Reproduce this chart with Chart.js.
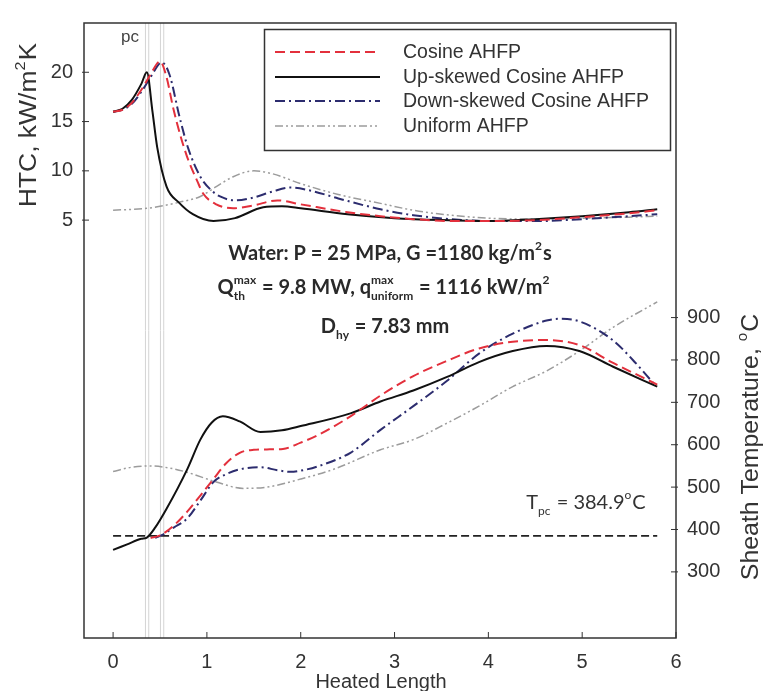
<!DOCTYPE html>
<html lang="en">
<head>
  <meta charset="UTF-8">
  <title>HTC and Sheath Temperature along Heated Length</title>
  <script src="https://cdn.jsdelivr.net/npm/chart.js"></script>
  <style>
    body { margin: 0; background: #fff; }
    #wrap { width: 764px; height: 691px; }
  </style>
</head>
<body>
<div id="wrap"><canvas id="chart" width="764" height="691"></canvas></div>
<script>
  // --- HTC, kW/m2K (left axis) ---
  const cosHtcX = [0, 0.1, 0.2, 0.3, 0.4, 0.5, 0.57, 0.64, 0.72, 0.79, 0.9, 0.96, 1.1, 1.28, 1.5, 1.75, 2.0, 2.5, 2.85, 3.2, 3.6, 4.0, 4.5, 5.0, 5.5, 5.8];
  const cosHtcY = [16, 16.2, 16.9, 18.2, 19.8, 21.1, 19.5, 16.4, 13.5, 11.4, 8.9, 7.7, 6.6, 6.2, 6.5, 7.0, 6.6, 5.8, 5.4, 5.1, 4.9, 4.9, 5.0, 5.3, 5.7, 6.0];
  const upHtcX = [0, 0.1, 0.2, 0.3, 0.36, 0.42, 0.47, 0.57, 0.7, 0.85, 1.07, 1.3, 1.6, 1.8, 2.0, 2.5, 3.0, 3.5, 4.0, 4.5, 5.0, 5.5, 5.8];
  const upHtcY = [16, 16.3, 17.2, 18.8, 20, 16, 12.4, 8.4, 6.8, 5.6, 4.9, 5.2, 6.3, 6.4, 6.2, 5.6, 5.2, 5.0, 4.9, 5.1, 5.4, 5.8, 6.1];
  const downHtcX = [0, 0.1, 0.2, 0.3, 0.4, 0.52, 0.6, 0.71, 0.8, 0.93, 1.05, 1.14, 1.3, 1.5, 1.7, 1.89, 2.1, 2.4, 2.85, 3.2, 3.6, 4.0, 4.5, 5.0, 5.5, 5.8];
  const downHtcY = [16, 16.2, 16.8, 18.0, 19.5, 21.0, 19.8, 15.4, 12.3, 9.4, 8.0, 7.4, 7.0, 7.3, 7.9, 8.3, 8.0, 7.2, 6.1, 5.5, 5.1, 4.9, 4.9, 5.1, 5.4, 5.6];
  const uniHtcX = [0, 0.36, 0.5, 0.7, 0.93, 1.1, 1.28, 1.5, 1.7, 2.0, 2.4, 2.85, 3.2, 3.6, 4.0, 4.5, 5.0, 5.5, 5.8];
  const uniHtcY = [6.0, 6.2, 6.4, 6.8, 7.4, 8.4, 9.4, 10.0, 9.7, 8.7, 7.6, 6.7, 6.0, 5.5, 5.2, 5.1, 5.2, 5.3, 5.4];

  // --- Sheath temperature, °C (right axis) ---
  const cosTX = [0.4, 0.5, 0.65, 0.79, 0.93, 1.07, 1.2, 1.35, 1.5, 1.64, 1.81, 2.0, 2.17, 2.53, 2.85, 3.2, 3.56, 3.9, 4.26, 4.62, 4.97, 5.33, 5.8];
  const cosTY = [380, 386, 410, 442, 480, 519, 555, 581, 588, 589, 590, 605, 621, 667, 716, 762, 798, 827, 843, 847, 835, 793, 742];
  const upTX = [0, 0.15, 0.3, 0.36, 0.45, 0.57, 0.79, 0.93, 1.05, 1.17, 1.35, 1.57, 1.8, 2.0, 2.53, 2.85, 3.2, 3.56, 3.9, 4.26, 4.62, 4.97, 5.33, 5.8];
  const upTY = [352, 365, 378, 381, 405, 449, 542, 612, 652, 667, 655, 630, 634, 644, 674, 702, 728, 760, 795, 821, 833, 821, 784, 737];
  const downTX = [0.45, 0.53, 0.65, 0.79, 0.93, 1.07, 1.2, 1.35, 1.57, 1.75, 1.89, 2.05, 2.17, 2.53, 2.85, 3.2, 3.56, 3.9, 4.26, 4.62, 4.75, 4.97, 5.33, 5.54, 5.76];
  const downTY = [380, 388, 405, 426, 468, 512, 530, 542, 547, 540, 536, 541, 548, 581, 635, 691, 751, 815, 862, 893, 897, 891, 846, 800, 745];
  const uniTX = [0, 0.2, 0.4, 0.6, 0.79, 1.1, 1.39, 1.64, 2.0, 2.35, 2.85, 3.2, 3.56, 3.9, 4.26, 4.62, 4.97, 5.33, 5.8];
  const uniTY = [537, 547, 550, 545, 535, 512, 497, 500, 519, 542, 588, 612, 651, 691, 737, 774, 821, 877, 937];

  // pseudo-critical temperature line and the two pc marker positions
  const tpcX = [0, 5.8];
  const tpcY = [384.9, 384.9];
  const pcLineX = [0.345, 0.38, 0.505, 0.54];

  const xTicks = [0, 1, 2, 3, 4, 5, 6];
  const htcTicks = [5, 10, 15, 20];
  const tempTicks = [300, 400, 500, 600, 700, 800, 900];

  const legendNames = ['Cosine AHFP', 'Up-skewed Cosine AHFP', 'Down-skewed Cosine AHFP', 'Uniform AHFP'];

  const HTC_MIN = -37.4, HTC_MAX = 25;
  const T_MIN = 144, T_MAX = 1595;
  const SANS = '"Liberation Sans", Arial, sans-serif';
  const NOTE = 'Lato, "Open Sans", sans-serif';

  const RED = '#e3303c', BLACK = '#111111', NAVY = '#2c2c6e', GREY = '#9c9c9c';
  const DASH = [10, 5], DASHDOT = [10, 4, 2, 4], DASHDOTDOT = [8, 3, 2, 3, 2, 3];

  const pts = (xs, ys) => xs.map((x, i) => ({ x: x, y: ys[i] }));

  function curve(label, xs, ys, axis, color, width, dash) {
    return {
      label: label, data: pts(xs, ys), yAxisID: axis,
      borderColor: color, borderWidth: width, borderDash: dash,
      pointRadius: 0, showLine: true, fill: false,
      cubicInterpolationMode: 'monotone'
    };
  }

  const datasets = [
    curve(legendNames[0], cosHtcX, cosHtcY, 'y', RED, 2, DASH),
    curve(legendNames[1], upHtcX, upHtcY, 'y', BLACK, 2, []),
    curve(legendNames[2], downHtcX, downHtcY, 'y', NAVY, 2, DASHDOT),
    curve(legendNames[3], uniHtcX, uniHtcY, 'y', GREY, 1.5, DASHDOTDOT),
    curve(legendNames[0] + ' T', cosTX, cosTY, 'y2', RED, 2, DASH),
    curve(legendNames[1] + ' T', upTX, upTY, 'y2', BLACK, 2, []),
    curve(legendNames[2] + ' T', downTX, downTY, 'y2', NAVY, 2, DASHDOT),
    curve(legendNames[3] + ' T', uniTX, uniTY, 'y2', GREY, 1.5, DASHDOTDOT),
    {
      label: 'Tpc', data: pts(tpcX, tpcY), yAxisID: 'y2',
      borderColor: '#222', borderWidth: 1.6, borderDash: [8, 4],
      pointRadius: 0, showLine: true, fill: false, tension: 0
    }
  ];
  pcLineX.forEach(x => {
    datasets.push({
      label: 'pc', data: [{ x: x, y: HTC_MIN }, { x: x, y: HTC_MAX }], yAxisID: 'y',
      borderColor: '#d4d4d4', borderWidth: 1, pointRadius: 0, showLine: true, fill: false, tension: 0
    });
  });

  // text with stacked sub/superscripts; stretch > 1 widens along the baseline
  function richText(ctx, parts, x, y, size, weight, font, align, stretch) {
    const k = stretch || 1;
    const small = Math.round(size * 0.6);
    const big = weight + ' ' + size + 'px ' + font;
    const sm = weight + ' ' + small + 'px ' + font;
    const widths = parts.map(p => {
      if (typeof p === 'string') { ctx.font = big; return ctx.measureText(p).width; }
      ctx.font = sm;
      return Math.max(p.sub ? ctx.measureText(p.sub).width : 0, p.sup ? ctx.measureText(p.sup).width : 0) + 1;
    });
    const total = widths.reduce((s, w) => s + w, 0) * k;
    ctx.save();
    ctx.translate(align === 'center' ? x - total / 2 : x, y);
    ctx.scale(k, 1);
    ctx.textAlign = 'left';
    ctx.textBaseline = 'alphabetic';
    let cx = 0;
    parts.forEach((p, i) => {
      if (typeof p === 'string') {
        ctx.font = big; ctx.fillText(p, cx, 0);
      } else {
        ctx.font = sm;
        if (p.sub) ctx.fillText(p.sub, cx, size * 0.3);
        if (p.sup) ctx.fillText(p.sup, cx, -size * 0.5);
      }
      cx += widths[i];
    });
    ctx.restore();
  }

  const decor = {
    id: 'decor',
    afterDraw(chart) {
      const ctx = chart.ctx, a = chart.chartArea;
      const sx = chart.scales.x, sy = chart.scales.y, sy2 = chart.scales.y2;
      ctx.save();

      // frame + inward ticks
      ctx.strokeStyle = '#333';
      ctx.lineWidth = 1.5;
      ctx.strokeRect(a.left, a.top, a.right - a.left, a.bottom - a.top);
      ctx.lineWidth = 1;
      ctx.beginPath();
      xTicks.forEach(v => { const px = sx.getPixelForValue(v); ctx.moveTo(px, a.bottom); ctx.lineTo(px, a.bottom - 6); });
      htcTicks.forEach(v => { const py = sy.getPixelForValue(v); ctx.moveTo(a.left - 2, py); ctx.lineTo(a.left + 5, py); });
      tempTicks.forEach(v => { const py = sy2.getPixelForValue(v); ctx.moveTo(a.right + 2, py); ctx.lineTo(a.right - 5, py); });
      ctx.stroke();

      // legend box
      ctx.lineWidth = 1.5;
      ctx.strokeRect(264.5, 29.5, 406, 121);
      const rows = [52, 77, 101, 126];
      [0, 1, 2, 3].forEach(i => {
        const ds = chart.data.datasets[i];
        ctx.strokeStyle = ds.borderColor;
        ctx.lineWidth = ds.borderWidth;
        ctx.setLineDash(ds.borderDash);
        ctx.beginPath();
        ctx.moveTo(275, rows[i]); ctx.lineTo(380, rows[i]);
        ctx.stroke();
        ctx.setLineDash([]);
        ctx.fillStyle = '#333';
        ctx.font = '19.5px ' + SANS;
        ctx.textAlign = 'left';
        ctx.textBaseline = 'middle';
        ctx.fillText(legendNames[i], 403, rows[i] + 1);
      });

      // axis titles
      ctx.fillStyle = '#333';
      ctx.save();
      ctx.translate(36, 125);
      ctx.rotate(-Math.PI / 2);
      richText(ctx, ['HTC, kW/m', { sup: '2' }, 'K'], 0, 0, 23, 'normal', SANS, 'center', 1.15);
      ctx.restore();
      ctx.save();
      ctx.translate(758, 447);
      ctx.rotate(-Math.PI / 2);
      richText(ctx, ['Sheath Temperature, ', { sup: 'o' }, 'C'], 0, 0, 23, 'normal', SANS, 'center', 1.08);
      ctx.restore();
      ctx.font = '20px ' + SANS;
      ctx.textAlign = 'center';
      ctx.textBaseline = 'alphabetic';
      ctx.fillText('Heated Length', 381, 688);

      // pc label
      ctx.fillStyle = '#444';
      ctx.font = '17px ' + SANS;
      ctx.textBaseline = 'middle';
      ctx.fillText('pc', 130, 37);

      // flow conditions
      ctx.fillStyle = '#2a2a2a';
      richText(ctx, ['Water: P = 25 MPa, G =1180 kg/m', { sup: '2' }, 's'], 390, 260, 20, 'bold', NOTE, 'center');
      richText(ctx, ['Q', { sub: 'th', sup: 'max' }, ' = 9.8 MW, q', { sub: 'uniform', sup: 'max' }, ' = 1116 kW/m', { sup: '2' }], 384, 294, 20, 'bold', NOTE, 'center');
      richText(ctx, ['D', { sub: 'hy' }, ' = 7.83 mm'], 385, 333, 20, 'bold', NOTE, 'center');

      // Tpc label
      ctx.fillStyle = '#333';
      richText(ctx, ['T', { sub: 'pc' }, ' = 384.9', { sup: 'o' }, 'C'], 586, 509, 20, 'normal', NOTE, 'center');

      ctx.restore();
    }
  };

  const tickFont = { family: SANS, size: 20 };

  new Chart(document.getElementById('chart'), {
    type: 'scatter',
    data: { datasets: datasets },
    options: {
      responsive: false,
      animation: false,
      layout: { padding: { top: 14, left: 0, right: 0, bottom: 0 } },
      plugins: { legend: { display: false }, tooltip: { enabled: false } },
      scales: {
        x: {
          type: 'linear', min: -0.31, max: 6,
          grid: { display: false, drawTicks: false }, border: { display: false },
          ticks: { font: tickFont, color: '#333', padding: 12 },
          afterBuildTicks: s => { s.ticks = xTicks.map(v => ({ value: v })); },
          afterFit: s => { s.height = 53; }
        },
        y: {
          type: 'linear', position: 'left', min: HTC_MIN, max: HTC_MAX,
          grid: { display: false, drawTicks: false }, border: { display: false },
          ticks: { font: tickFont, color: '#333', padding: 11 },
          afterBuildTicks: s => { s.ticks = htcTicks.map(v => ({ value: v })); },
          afterFit: s => { s.width = 84; }
        },
        y2: {
          type: 'linear', position: 'right', min: T_MIN, max: T_MAX,
          grid: { display: false, drawTicks: false }, border: { display: false },
          ticks: { font: tickFont, color: '#333', padding: 11 },
          afterBuildTicks: s => { s.ticks = tempTicks.map(v => ({ value: v })); },
          afterFit: s => { s.width = 88; }
        }
      }
    },
    plugins: [decor]
  });
</script>
</body>
</html>
